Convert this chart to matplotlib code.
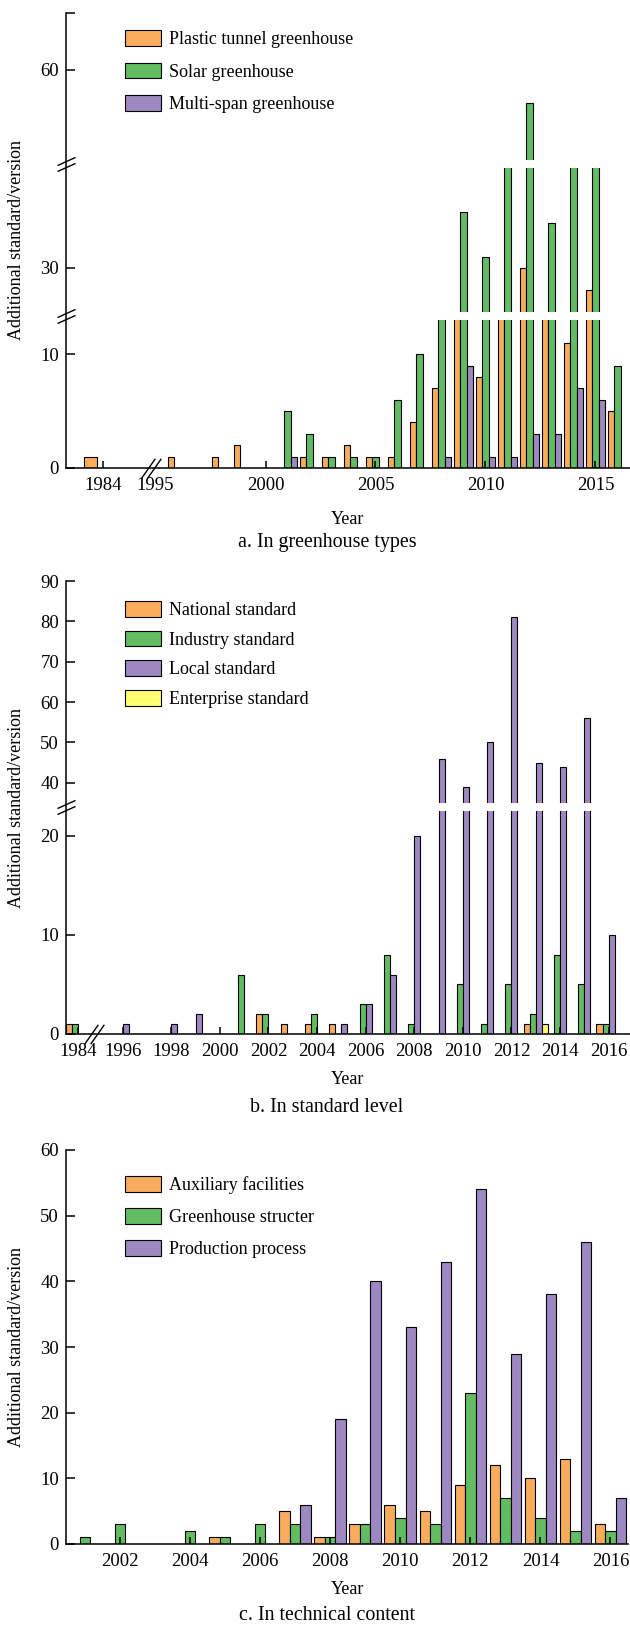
import matplotlib
matplotlib.use("Agg")
from matplotlib import pyplot as plt
from matplotlib import transforms
import numpy as np

plt.rcParams['font.family'] = ['Liberation Serif', 'DejaVu Serif']

# Данные: a. по типам теплиц
years_a = [1984, 1996, 1997, 1998, 1999, 2000, 2001, 2002, 2003, 2004, 2005,
           2006, 2007, 2008, 2009, 2010, 2011, 2012, 2013, 2014, 2015, 2016]
plastic_tunnel = [1, 1, 0, 1, 2, 0, 0, 1, 1, 2, 1, 1, 4, 7, 20, 8, 22, 30, 18, 11, 28, 5]
solar = [0, 0, 0, 0, 0, 0, 5, 3, 1, 1, 1, 6, 10, 18, 35, 31, 45, 57, 34, 45, 45, 9]
multi_span = [0, 0, 0, 0, 0, 0, 1, 0, 0, 0, 0, 0, 0, 1, 9, 1, 1, 3, 3, 7, 6, 0]
labels_a = ["Plastic tunnel greenhouse", "Solar greenhouse", "Multi-span greenhouse"]

# b. по уровню стандарта
years_b = [1984, 1996, 1997, 1998, 1999, 2000, 2001, 2002, 2003, 2004, 2005,
           2006, 2007, 2008, 2009, 2010, 2011, 2012, 2013, 2014, 2015, 2016]
national = [1, 0, 0, 0, 0, 0, 0, 2, 1, 1, 1, 0, 0, 0, 0, 0, 0, 0, 1, 0, 0, 1]
industry = [1, 0, 0, 0, 0, 0, 6, 2, 0, 2, 0, 3, 8, 1, 0, 5, 1, 5, 2, 8, 5, 1]
local = [0, 1, 0, 1, 2, 0, 0, 0, 0, 0, 1, 3, 6, 20, 46, 39, 50, 81, 45, 44, 56, 10]
enterprise = [0, 0, 0, 0, 0, 0, 0, 0, 0, 0, 0, 0, 0, 0, 0, 0, 0, 0, 1, 0, 0, 0]
labels_b = ["National standard", "Industry standard", "Local standard", "Enterprise standard"]

# c. по техническому содержанию
years_c = [2001, 2002, 2003, 2004, 2005, 2006, 2007, 2008,
           2009, 2010, 2011, 2012, 2013, 2014, 2015, 2016]
auxiliary = [0, 0, 0, 0, 1, 0, 5, 1, 3, 6, 5, 9, 12, 10, 13, 3]
structure = [1, 3, 0, 2, 1, 3, 3, 1, 3, 4, 3, 23, 7, 4, 2, 2]
production = [0, 0, 0, 0, 0, 0, 6, 19, 40, 33, 43, 54, 29, 38, 46, 7]
labels_c = ["Auxiliary facilities", "Greenhouse structer", "Production process"]

c_orange = '#F8AC5C'
c_green = '#62BC62'
c_purple = '#9D88C2'
c_yellow = '#FFFF70'

W, H = 630, 1625
fig = plt.figure(figsize=(W / 100, H / 100), dpi=100)


def px_axes(left, top, right, bottom):
    return fig.add_axes([left / W, 1 - bottom / H, (right - left) / W, (bottom - top) / H])


def broken_scale(vals, pix):
    return (lambda v: np.interp(v, vals, pix), lambda p: np.interp(p, pix, vals))


def draw_bars(ax, pos, series, colors, bw):
    n = len(series)
    conts = []
    for i, (vals, c) in enumerate(zip(series, colors)):
        x = np.array(pos, dtype=float) + (i - (n - 1) / 2) * bw
        conts.append(ax.bar(x, vals, width=bw, color=c, edgecolor='black', linewidth=0.8))
    return conts


def ybreak(ax, yval):
    base = transforms.blended_transform_factory(ax.transAxes, ax.transData)
    for dy in (-3, 3):
        tr = transforms.offset_copy(base, fig=fig, y=dy, units='dots')
        ax.plot([0], [yval], transform=tr, marker=[(-1, -0.45), (1, 0.45)],
                markersize=13, mec='black', mew=1, clip_on=False, zorder=5)


def xbreak(ax, xval):
    base = transforms.blended_transform_factory(ax.transData, ax.transAxes)
    for dx in (-3, 3):
        tr = transforms.offset_copy(base, fig=fig, x=dx, units='dots')
        ax.plot([xval], [0], transform=tr, marker=[(-0.35, -0.5), (0.35, 0.5)],
                markersize=14, mec='black', mew=1, clip_on=False, zorder=5)


def style(ax):
    for s in ('top', 'right'):
        ax.spines[s].set_visible(False)
    for s in ('left', 'bottom'):
        ax.spines[s].set_linewidth(1.1)
    ax.tick_params(axis='y', direction='in', length=6.5, width=1.1, labelsize=13.5, pad=5)
    ax.tick_params(axis='x', direction='in', length=5, width=1.1, labelsize=13.5, pad=6.5)
    ax.set_ylabel("Additional standard/version", fontsize=13)
    ax.yaxis.set_label_coords(-0.073, 0.5)


def add_legend(ax, handles, labels, top, spacing):
    ax.legend(handles, labels, loc='upper left', bbox_to_anchor=(116 / W, 1 - top / H),
              bbox_transform=fig.transFigure, frameon=False, borderpad=0, fontsize=13,
              handlelength=2.0, handleheight=0.95, handletextpad=0.45, labelspacing=spacing)


def captions(y_year, y_cap, text):
    fig.text(348 / W, 1 - y_year / H, "Year", ha='center', va='center', fontsize=13)
    fig.text(327 / W, 1 - y_cap / H, text, ha='center', va='center', fontsize=14.4)


# ---------- a ----------
ax = px_axes(66, 13, 630, 468)
fwd, inv = broken_scale([0, 13, 26, 39, 52, 65], [0, 148, 156, 300, 308, 455])
ax.set_yscale('function', functions=(fwd, inv))
pos_a = [1992.6 if y == 1984 else y for y in years_a]
bw = 0.3
conts = draw_bars(ax, pos_a, [plastic_tunnel, solar, multi_span], [c_orange, c_green, c_purple], bw)
# в 1984 году столбец двойной ширины
r = conts[0].patches[0]
r.set_width(2 * bw)
r.set_x(pos_a[0] - 2.9 * bw)
ax.axhspan(13, 26, color='white', zorder=2, lw=0)
ax.axhspan(39, 52, color='white', zorder=2, lw=0)
ax.set_xlim(1990.93, 2016.57)
ax.set_ylim(0, 65)
ax.set_yticks([0, 10, 30, 60, 65], ['0', '10', '30', '60', ''])
ax.set_xticks([1992.6, 1995, 2000, 2005, 2010, 2015],
              ['1984', '1995', '2000', '2005', '2010', '2015'])
style(ax)
ax.xaxis.get_major_ticks()[1].tick1line.set_visible(False)
ybreak(ax, 19.5)
ybreak(ax, 45.5)
xbreak(ax, 1994.8)
add_legend(ax, conts, labels_a, 21, 0.81)
captions(519, 543, "a. In greenhouse types")

# ---------- b ----------
ax = px_axes(66, 581, 630, 1034)
fwd, inv = broken_scale([0, 22.5, 35, 90], [0, 223, 231, 453])
ax.set_yscale('function', functions=(fwd, inv))
pos_b = [1994.15 if y == 1984 else y for y in years_b]
conts = draw_bars(ax, pos_b, [national, industry, local, enterprise],
                  [c_orange, c_green, c_purple, c_yellow], 0.25)
ax.axhspan(22.5, 35, color='white', zorder=2, lw=0)
ax.set_xlim(1993.67, 2016.88)
ax.set_ylim(0, 90)
ax.set_yticks([0, 10, 20, 40, 50, 60, 70, 80, 90])
ax.set_xticks([1994.15] + list(range(1996, 2017, 2)),
              ['1984'] + [str(y) for y in range(1996, 2017, 2)])
style(ax)
ybreak(ax, 28.75)
xbreak(ax, 1994.83)
add_legend(ax, conts, labels_b, 592, 0.65)
captions(1080, 1107, "b. In standard level")

# ---------- c ----------
ax = px_axes(66, 1150, 628, 1544)
conts = draw_bars(ax, years_c, [auxiliary, structure, production],
                  [c_orange, c_green, c_purple], 0.3)
ax.set_xlim(2000.46, 2016.5)
ax.set_ylim(0, 60)
ax.set_yticks(range(0, 61, 10))
ax.set_xticks(range(2002, 2017, 2))
style(ax)
add_legend(ax, conts, labels_c, 1167, 0.78)
captions(1590, 1616, "c. In technical content")

fig.savefig("out.png", dpi=100)
